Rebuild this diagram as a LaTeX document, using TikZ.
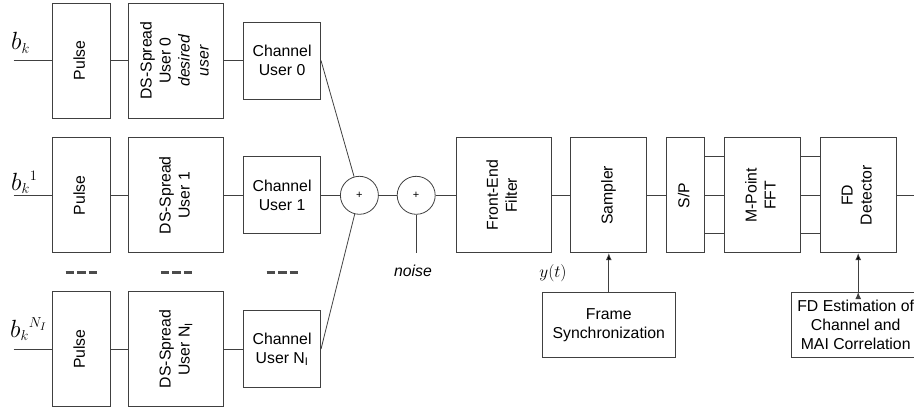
\documentclass[tikz,border=0pt]{standalone}
\usepackage[no-math]{fontspec}
\setmainfont{Liberation Sans}
\usepackage{amsmath}
\usepackage{graphicx}
\usetikzlibrary{positioning}
\usetikzlibrary{calc}
\usetikzlibrary{arrows.meta}
\DeclareMathSizes{24}{24}{14}{11}
\DeclareMathSizes{17}{17}{12}{9}
\newcommand{\vlab}[1]{\rotatebox{90}{\begin{tabular}{@{}c@{}}#1\end{tabular}}}
\tikzset{
blk/.style={
  rectangle,
  draw=black!75,
  line width=0.8pt,
  inner sep=0pt,
  align=center,
  font=\fontsize{15.8}{19}\selectfont
  },
tall/.style={blk, minimum height=115pt},
sumc/.style={
  circle,
  draw=black!75,
  line width=0.8pt,
  inner sep=0pt,
  minimum size=38pt,
  font=\fontsize{11}{13}\selectfont
  },
line/.style={draw=black!75, line width=0.8pt},
dashrow/.style={draw=black!70, line width=2.6pt, dash pattern=on 8.5pt off 3pt},
mlbl/.style={inner sep=0pt, font=\fontsize{24}{28}\selectfont},
lbl/.style={inner sep=0pt, font=\fontsize{15.8}{19}\selectfont}
}

\begin{document}
\begin{tikzpicture}[x=1pt,y=-1pt,>={Latex[length=7pt,width=6pt]}]
\useasboundingbox (0,0) rectangle (914,407);
% users
\node[tall, minimum width=58pt] (p0) at (81,60.5) {\vlab{Pulse}};
\node[tall, minimum width=95pt] (s0) [right=18pt of p0] {\vlab{DS-Spread\\User 0\\\textit{desired}\\\textit{user}}};
\node[blk, minimum size=77pt] (c0) [right=19pt of s0] {Channel\\User 0};
\node[tall, minimum width=58pt] (p1) [below=19pt of p0] {\vlab{Pulse}};
\node[tall, minimum width=95pt] (s1) [right=18pt of p1] {\vlab{DS-Spread\\User 1}};
\node[blk, minimum size=77pt] (c1) [right=19pt of s1] {Channel\\User 1};
\node[tall, minimum width=58pt] (p2) [below=38pt of p1] {\vlab{Pulse}};
\node[tall, minimum width=95pt] (s2) [right=18pt of p2] {\vlab{DS-Spread\\User N\textsubscript{I}}};
\node[blk, minimum size=77pt] (c2) [right=19pt of s2] {Channel\\User N\textsubscript{I}};
\node[coordinate] (i0) [left=38pt of p0] {};
\node[coordinate] (i1) [left=38pt of p1] {};
\node[coordinate] (i2) [left=38pt of p2] {};
\node[mlbl, anchor=base west] (b0) at (11,49.5) {$b_k$};
\node[mlbl, anchor=base west] (b1) at (11,190) {$b_k{}^{1}$};
\node[mlbl, anchor=base west] (b2) at (10,337) {$b_k{}^{N_I}$};
\coordinate (mid) at ($(p1.south)!0.5!(p2.north)$);
\foreach \n in {p1,s1,c1}
  \draw[dashrow] ($(\n |- mid)+(-15.5,0)$) -- ($(\n |- mid)+(16,0)$);
% receiver chain
\node[sumc] (sum1) [right=19pt of c1] {+};
\node[sumc] (sum2) [right=18pt of sum1] {+};
\node[coordinate] (nz) [below=38pt of sum2] {};
\node[lbl, anchor=base] (nlbl) at (413,276.5) {\textit{noise}};
\node[tall, minimum width=95pt] (filt) [right=20pt of sum2] {\vlab{Front-End\\Filter}};
\node[tall, minimum width=76pt] (samp) [right=19pt of filt] {\vlab{Sampler}};
\node[tall, minimum width=38pt] (sp) [right=19pt of samp] {\vlab{S/P}};
\node[tall, minimum width=76pt] (fft) [right=19pt of sp] {\vlab{M-Point\\FFT}};
\node[tall, minimum width=76pt] (fd) [right=19pt of fft] {\vlab{FD\\Detector}};
\node[coordinate] (out) [right=21pt of fd] {};
\node[blk, minimum width=133pt, minimum height=65pt] (sync) [below=39pt of samp] {Frame\\Synchronization};
\node[blk, minimum width=129pt, minimum height=65pt, xshift=-2.5pt] (est) [below=39pt of fd] {FD Estimation of\\Channel and\\MAI Correlation};
\node[inner sep=0pt, font=\fontsize{17}{20}\selectfont, anchor=base] (ylbl) at (553,277) {$y(t)$};
\path[line]
(i0) edge (p0)
(p0) edge (s0)
(s0) edge (c0)
(i1) edge (p1)
(p1) edge (s1)
(s1) edge (c1)
(i2) edge (p2)
(p2) edge (s2)
(s2) edge (c2)
(c0.east) edge (sum1)
(c1) edge (sum1)
(c2.east) edge (sum1)
(sum1) edge (sum2)
(sum2) edge (nz)
(sum2) edge (filt)
(filt) edge (samp)
(samp) edge (sp)
(sp) edge (fft)
([yshift=39pt]sp.east) edge ([yshift=39pt]fft.west)
([yshift=-38pt]sp.east) edge ([yshift=-38pt]fft.west)
(fft) edge (fd)
([yshift=39pt]fft.east) edge ([yshift=39pt]fd.west)
([yshift=-38pt]fft.east) edge ([yshift=-38pt]fd.west)
(fd) edge (out)
;
\path[line,->]
(sync) edge (samp)
(fd.south |- est.north) edge (fd.south)
;
\end{tikzpicture}
\end{document}
